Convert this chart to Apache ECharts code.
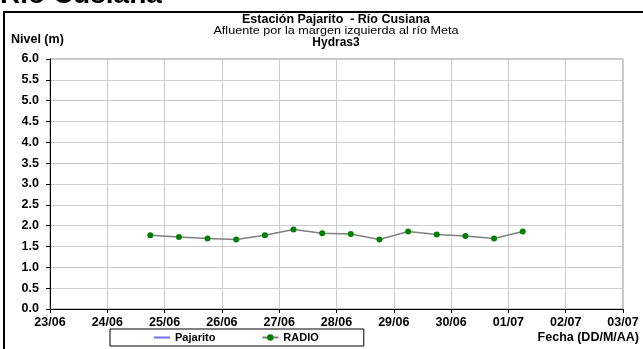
<!DOCTYPE html>
<html>
<head>
<meta charset="utf-8">
<script src="https://cdn.jsdelivr.net/npm/echarts@6/dist/echarts.min.js"></script>
<style>
html,body{margin:0;padding:0;background:#fff;}
#c{width:643px;height:349px;}
</style>
</head>
<body>
<div id="c"></div>
<script>
// ---- data ----
var radioTimes = ['2023-06-24 18:00','2023-06-25 06:00','2023-06-25 18:00','2023-06-26 06:00','2023-06-26 18:00','2023-06-27 06:00','2023-06-27 18:00','2023-06-28 06:00','2023-06-28 18:00','2023-06-29 06:00','2023-06-29 18:00','2023-06-30 06:00','2023-06-30 18:00','2023-07-01 06:00'];
var radioValues = [1.77, 1.73, 1.69, 1.67, 1.77, 1.91, 1.82, 1.80, 1.67, 1.86, 1.79, 1.75, 1.69, 1.86];
var pajaritoValues = [];
var xStart = '2023-06-23';
var xEnd = '2023-07-03';
var yTicks = ['0.0','0.5','1.0','1.5','2.0','2.5','3.0','3.5','4.0','4.5','5.0','5.5','6.0'];
var titleText = 'Estación Pajarito  - Río Cusiana';
var subText = 'Afluente por la margen izquierda al río Meta';
var subText2 = 'Hydras3';
var headText = 'Río Cusiana';
var yName = 'Nivel (m)';
var xName = 'Fecha (DD/M/AA)';

var DAY = 86400000;
function toMs(s){
  var p = s.split(' ');
  var d = p[0].split('-');
  var h = p[1] ? parseInt(p[1].split(':')[0],10) : 0;
  return Date.UTC(+d[0], +d[1]-1, +d[2], h);
}
function pad(n){return (n<10?'0':'')+n;}
var radioData = radioTimes.map(function(t,i){return [toMs(t), radioValues[i]];});

var FONT = '"Liberation Sans", Arial, sans-serif';
var chart = echarts.init(document.getElementById('c'), null, {renderer:'canvas'});
chart.setOption({
  backgroundColor:'#fff',
  animation:false,
  grid:{left:50, right:20, top:59, bottom:40, show:true, borderColor:'#8c8c8c', borderWidth:1},
  xAxis:{
    type:'value', min:toMs(xStart), max:toMs(xEnd), interval:DAY,
    axisLine:{show:true, onZero:false, lineStyle:{color:'#000', width:1}},
    axisTick:{show:true, inside:false, length:4, lineStyle:{color:'#000'}},
    axisLabel:{margin:7, color:'#000', fontFamily:FONT, fontWeight:'bold', fontSize:12.5,
      formatter:function(v){var d=new Date(v);return pad(d.getUTCDate())+'/'+pad(d.getUTCMonth()+1);}},
    splitLine:{show:true, lineStyle:{color:'#cccccc', width:1}}
  },
  yAxis:{
    type:'value', min:0, max:6, interval:0.5,
    axisLine:{show:true, lineStyle:{color:'#000', width:1}},
    axisTick:{show:true, length:4, lineStyle:{color:'#000'}},
    axisLabel:{margin:11, color:'#000', fontFamily:FONT, fontWeight:'bold', fontSize:12.5,
      formatter:function(v){return yTicks[Math.round(v*2)];}},
    splitLine:{show:true, lineStyle:{color:'#cccccc', width:1}}
  },
  legend:{
    left:110, top:329, orient:'horizontal',
    padding:[3,45,3,43], itemGap:46, itemWidth:16, itemHeight:8,
    borderColor:'#000', borderWidth:1, backgroundColor:'#fff',
    textStyle:{color:'#000', fontFamily:FONT, fontWeight:'bold', fontSize:11},
    data:[{name:'Pajarito', itemStyle:{opacity:0}}, 'RADIO']
  },
  series:[
    {name:'Pajarito', type:'line', data:pajaritoValues, symbol:'none', lineStyle:{color:'#7070ff', width:1.5}, itemStyle:{color:'#7070ff'}},
    {name:'RADIO', type:'line', data:radioData, symbol:'circle', symbolSize:6, showAllSymbol:true,
      lineStyle:{color:'#808080', width:1.5}, itemStyle:{color:'#008000', borderWidth:0}}
  ],
  graphic:[
    {type:'rect', shape:{x:4, y:12, width:700, height:400}, style:{fill:'none', stroke:'#000', lineWidth:2}, z:-1},
    {type:'text', x:0, y:-5, style:{text:headText, font:'bold 28px '+FONT, fill:'#000', textVerticalAlign:'middle'}},
    {type:'text', x:336, y:19.5, scaleX:1.04, style:{text:titleText, font:'bold 12px '+FONT, fill:'#000', textAlign:'center', textVerticalAlign:'middle'}},
    {type:'text', x:336, y:31, scaleX:1.2, style:{text:subText, font:'10.5px '+FONT, fill:'#000', textAlign:'center', textVerticalAlign:'middle'}},
    {type:'text', x:336, y:42.5, style:{text:subText2, font:'bold 12px '+FONT, fill:'#000', textAlign:'center', textVerticalAlign:'middle'}},
    {type:'text', x:11, y:40, style:{text:yName, font:'bold 12.5px '+FONT, fill:'#000', textVerticalAlign:'middle'}},
    {type:'text', x:639, y:338, style:{text:xName, font:'bold 12.5px '+FONT, fill:'#000', textAlign:'right', textVerticalAlign:'middle'}}
  ]
});
</script>
</body>
</html>
